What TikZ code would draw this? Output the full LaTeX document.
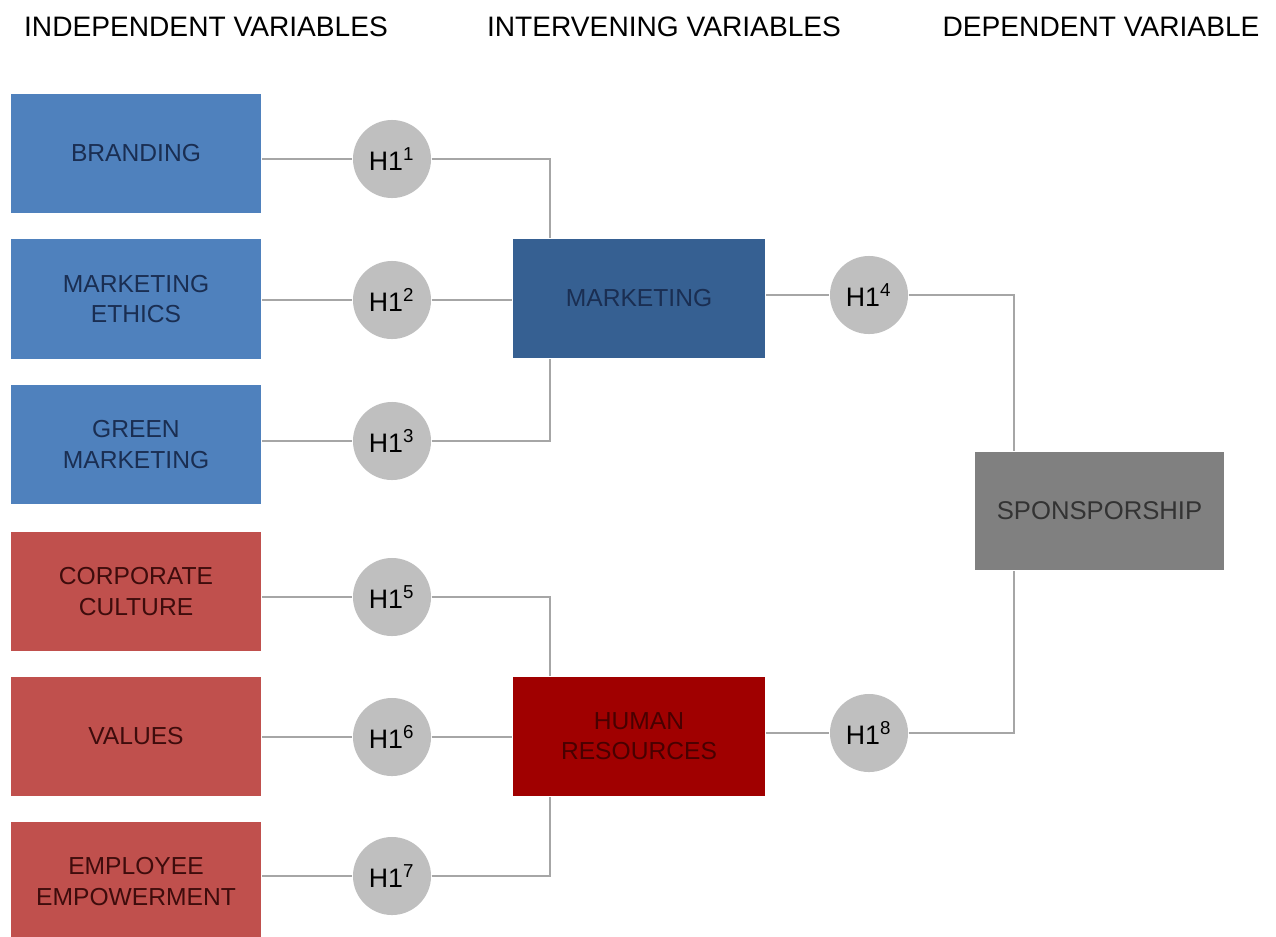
\documentclass[tikz,border=0pt]{standalone}
\usepackage{fontspec}
\setmainfont{Liberation Sans}
\usetikzlibrary{calc}

\definecolor{varblue}{HTML}{4F81BD}
\definecolor{varbluedk}{HTML}{366092}
\definecolor{varred}{HTML}{C0504D}
\definecolor{varreddk}{HTML}{A00000}
\definecolor{vargray}{HTML}{808080}
\definecolor{hypgray}{HTML}{BFBFBF}
\definecolor{linkgray}{HTML}{A6A6A6}
\definecolor{navytext}{HTML}{1A2E52}
\definecolor{maroontext}{HTML}{3E0C0C}

\begin{document}
\begin{tikzpicture}[x=0.01cm, y=-0.01cm,
    indep/.style={rectangle, minimum width=2.5cm, minimum height=1.19cm, align=center, font=\fontsize{7}{8.6}\selectfont, inner sep=0pt},
    hyp/.style={circle, fill=hypgray, minimum size=0.78cm, inner sep=0pt, font=\fontsize{7.6}{9}\selectfont},
    head/.style={font=\fontsize{8}{9}\selectfont},
    link/.style={linkgray, line width=0.45pt}]
    % 1. Vùng hiển thị
    \useasboundingbox (0, 0) rectangle (1276, 936);

    % 2. Tiêu đề các cột
    \node[head] (tind) at (206, 27) {INDEPENDENT VARIABLES};
    \node[head] (tint) at (664, 27) {INTERVENING VARIABLES};
    \node[head] (tdep) at (1101, 27) {DEPENDENT VARIABLE};

    % 3. Biến độc lập (màu xanh và đỏ)
    \node[indep, fill=varblue, text=navytext] (brand) at (136, 153.5) {BRANDING};
    \node[indep, fill=varblue, text=navytext] (ethic) at (136, 299) {MARKETING\\ETHICS};
    \node[indep, fill=varblue, text=navytext] (green) at (136, 444.5) {GREEN\\MARKETING};
    \node[indep, fill=varred, text=maroontext] (cult) at (136, 591.5) {CORPORATE\\CULTURE};
    \node[indep, fill=varred, text=maroontext] (value) at (136, 736.5) {VALUES};
    \node[indep, fill=varred, text=maroontext] (empow) at (136, 881.5) {EMPLOYEE\\EMPOWERMENT};

    % 4. Biến trung gian và biến phụ thuộc
    \node[indep, minimum width=2.52cm, fill=varbluedk, text=navytext] (mkt) at (639, 298.5) {MARKETING};
    \node[indep, minimum width=2.52cm, fill=varreddk, text=black!55!varreddk] (hr) at (639, 736.5) {HUMAN\\RESOURCES};
    \node[indep, minimum width=2.49cm, minimum height=1.18cm, fill=vargray, text=black!80, font=\fontsize{7.3}{8.6}\selectfont] (spon) at (1099.5, 511) {SPONSPORSHIP};

    % 5. Các giả thuyết H1
    \node[hyp] (h1) at (392, 159) {H1\textsuperscript{1}};
    \node[hyp] (h2) at (392, 300) {H1\textsuperscript{2}};
    \node[hyp] (h3) at (392, 441) {H1\textsuperscript{3}};
    \node[hyp] (h4) at (869, 295) {H1\textsuperscript{4}};
    \node[hyp] (h5) at (392, 597) {H1\textsuperscript{5}};
    \node[hyp] (h6) at (392, 737) {H1\textsuperscript{6}};
    \node[hyp] (h7) at (392, 876) {H1\textsuperscript{7}};
    \node[hyp] (h8) at (869, 733) {H1\textsuperscript{8}};

    % 6. Các đường nối
    \coordinate (mktup) at ([xshift=0.38cm]mkt.north west);
    \coordinate (mktdn) at ([xshift=0.38cm]mkt.south west);
    \coordinate (hrup) at ([xshift=0.38cm]hr.north west);
    \coordinate (hrdn) at ([xshift=0.38cm]hr.south west);
    \coordinate (spup) at ([xshift=0.4cm]spon.north west);
    \coordinate (spdn) at ([xshift=0.4cm]spon.south west);

    \draw[link] (brand.east |- h1) -- (h1);
    \draw[link] (h1) -| (mktup);
    \draw[link] (ethic.east |- h2) -- (h2);
    \draw[link] (h2) -- (mkt.west |- h2);
    \draw[link] (green.east |- h3) -- (h3);
    \draw[link] (h3) -| (mktdn);

    \draw[link] (cult.east |- h5) -- (h5);
    \draw[link] (h5) -| (hrup);
    \draw[link] (value.east |- h6) -- (h6);
    \draw[link] (h6) -- (hr.west |- h6);
    \draw[link] (empow.east |- h7) -- (h7);
    \draw[link] (h7) -| (hrdn);

    \draw[link] (mkt.east |- h4) -- (h4);
    \draw[link] (h4) -| (spup);
    \draw[link] (hr.east |- h8) -- (h8);
    \draw[link] (h8) -| (spdn);
\end{tikzpicture}
\end{document}
